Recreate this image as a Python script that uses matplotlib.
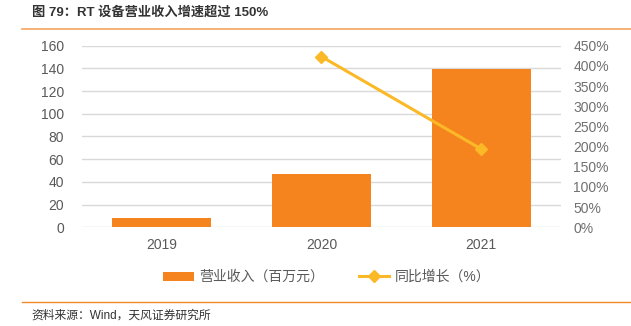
import matplotlib.pyplot as plt
from matplotlib.lines import Line2D
from matplotlib.patches import Patch

plt.rcParams['font.family'] = ['Liberation Sans', 'Noto Sans CJK SC', 'DejaVu Sans']

# data
years = ["2019", "2020", "2021"]
revenue = [8.2, 46.7, 139.5]          # 营业收入（百万元）
growth_years = ["2020", "2021"]
growth = [423, 194]                    # 同比增长（%）
left_ticks = [0, 20, 40, 60, 80, 100, 120, 140, 160]
right_ticks = [0, 50, 100, 150, 200, 250, 300, 350, 400, 450]

bar_color = "#F5841F"
line_color = "#FBB927"
grid_color = "#D9D9D9"
text_color = "#595959"

fig = plt.figure(figsize=(6.31, 3.26), dpi=100)
ax = fig.add_axes([0.130, 0.3028, 0.759, 0.5570])

x = list(range(len(years)))
ax.bar(x, revenue, width=0.62, color=bar_color, zorder=2)
ax.set_xlim(-0.5, 2.5)
ax.set_ylim(0, 160)
ax.set_yticks(left_ticks)
ax.set_xticks(x)
ax.set_xticklabels(years)
ax.grid(axis="y", color=grid_color, linewidth=1, zorder=0)
ax.set_axisbelow(True)
for s in ax.spines.values():
    s.set_visible(False)
ax.tick_params(axis="both", length=0, labelsize=10, colors=text_color)
ax.tick_params(axis="y", pad=13)
ax.tick_params(axis="x", pad=8)

ax2 = ax.twinx()
gx = [years.index(y) for y in growth_years]
ax2.plot(gx, growth, color=line_color, linewidth=2.2, marker="D", markersize=6.5, zorder=3)
ax2.set_ylim(0, 450)
ax2.set_yticks(right_ticks)
ax2.set_yticklabels([f"{t}%" for t in right_ticks])
for s in ax2.spines.values():
    s.set_visible(False)
ax2.tick_params(axis="y", length=0, labelsize=10, colors="#707070", pad=9)

handles = [
    Patch(facecolor=bar_color, edgecolor="none"),
    Line2D([0], [0], color=line_color, linewidth=2.2, marker="D", markersize=6),
]
fig.legend(handles, ["营业收入（百万元）", "同比增长（%）"], loc="center",
           bbox_to_anchor=(0.518, 0.15), ncol=2, frameon=False, fontsize=10,
           labelcolor=text_color, handlelength=2.2, handleheight=0.6,
           columnspacing=2.5, handletextpad=0.4)

# title, separators and source
fig.text(0.05, 1 - 12 / 326, "图 79：RT 设备营业收入增速超过 150%", fontsize=9.5,
         fontweight="bold", color="#333333", va="center", ha="left")
fig.add_artist(Line2D([22 / 631, 1], [1 - 29 / 326] * 2, color="#F4A460", linewidth=1.2))
fig.add_artist(Line2D([22 / 631, 1], [1 - 302 / 326] * 2, color="#F08A24", linewidth=1.0))
fig.text(0.05, 1 - 316 / 326, "资料来源：Wind，天风证券研究所", fontsize=8.5,
         color="#333333", va="center", ha="left")

plt.savefig("out.png", dpi=100)
